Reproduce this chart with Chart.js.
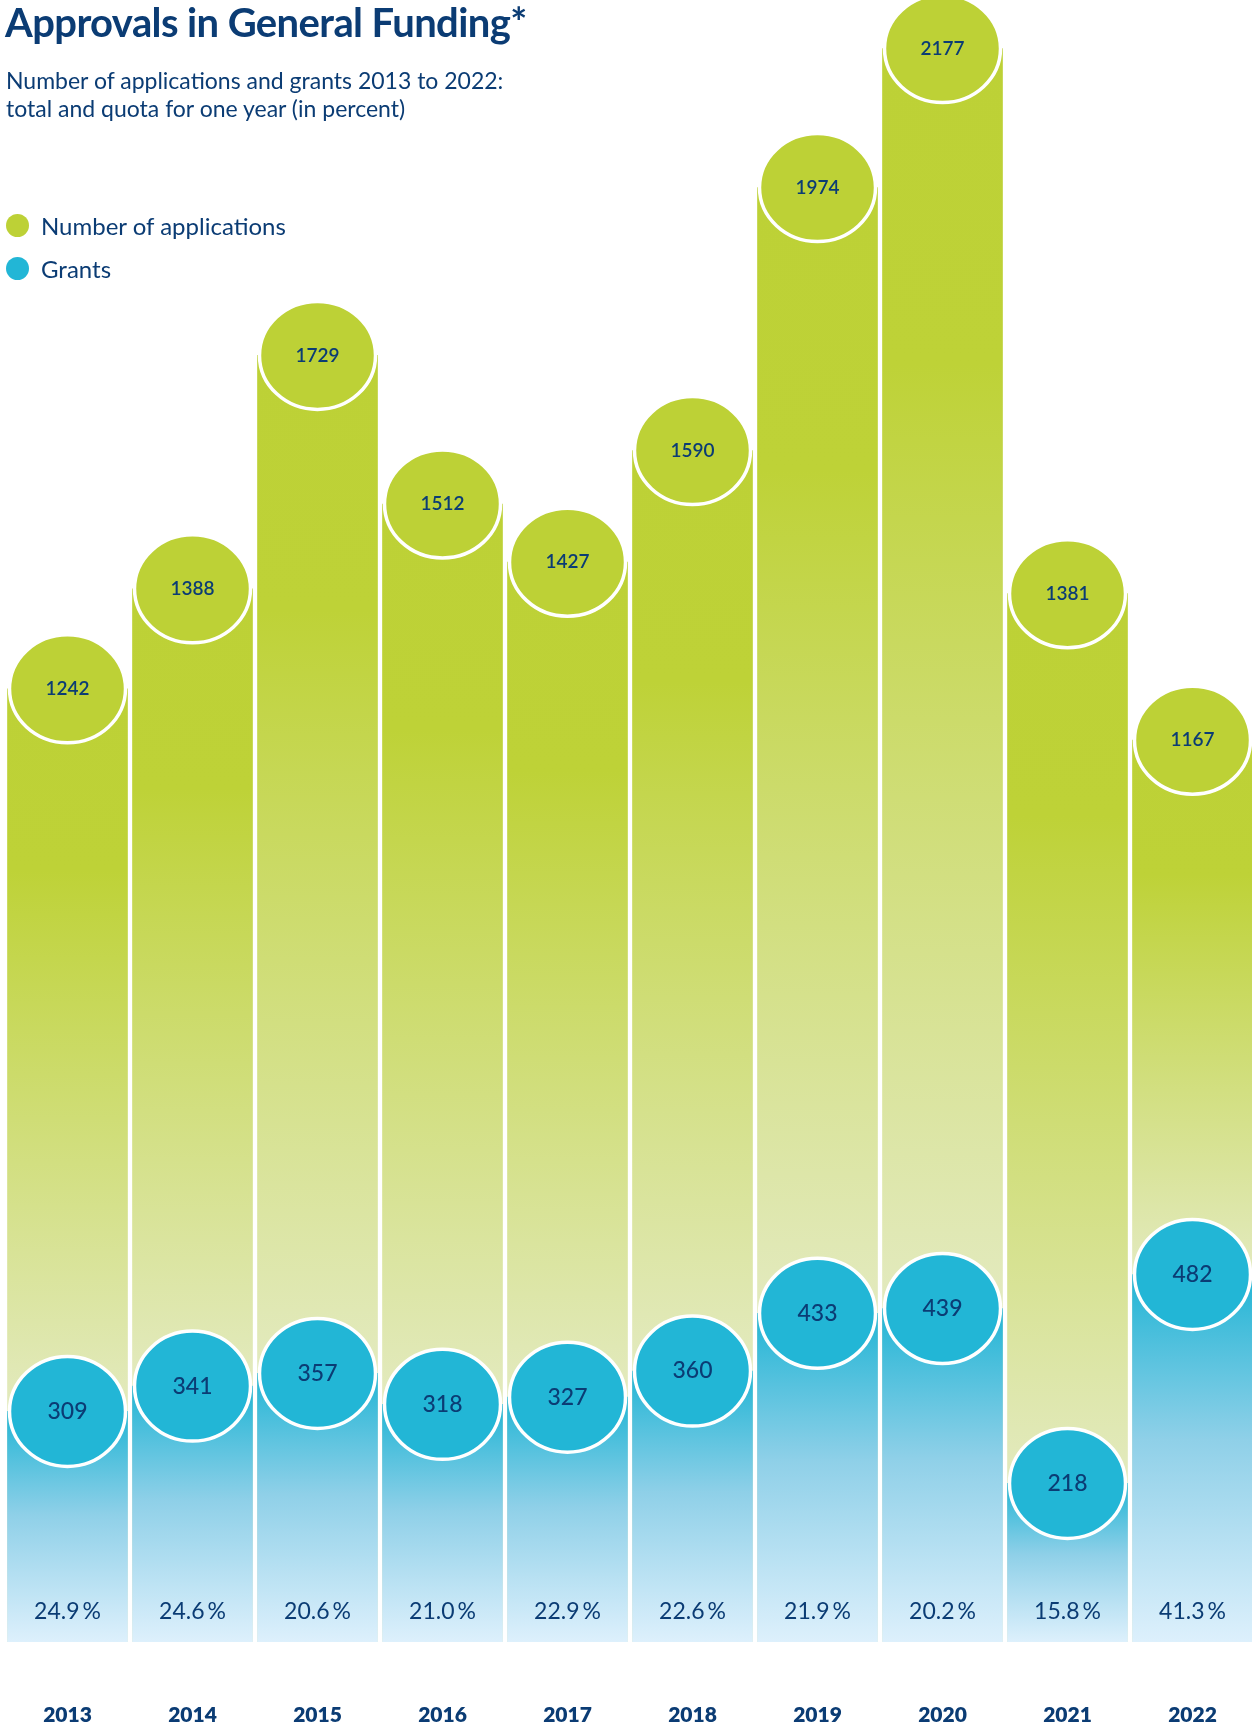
<!DOCTYPE html>
<html>
<head>
<meta charset="utf-8">
<script src="https://cdn.jsdelivr.net/npm/chart.js@4"></script>
<style>
  html, body { margin: 0; padding: 0; background: #fff; }
  #wrap { position: relative; width: 1252px; height: 1727px; overflow: hidden; font-family: Lato, sans-serif; color: #0b3c74; }
  #c { position: absolute; left: 0; top: 0; }
  h1 { position: absolute; left: 5px; top: -2px; margin: 0; font-size: 40px; font-weight: 700; letter-spacing: -0.6px; }
  .sub { position: absolute; left: 6px; top: 66px; font-size: 23px; line-height: 28px; }
  .legend { position: absolute; left: 6px; top: 204px; font-size: 24px; }
  .legend div { display: flex; align-items: center; height: 43px; }
  .dot { width: 23px; height: 23px; border-radius: 50%; margin-right: 12px; }
</style>
</head>
<body>
<div id="wrap">
  <canvas id="c" width="1256" height="1727"></canvas>
  <h1>Approvals in General Funding*</h1>
  <div class="sub">Number of applications and grants 2013 to 2022:<br>total and quota for one year (in percent)</div>
  <div class="legend">
    <div><span class="dot" style="background:#bdd136"></span>Number of applications</div>
    <div><span class="dot" style="background:#22b6d6"></span>Grants</div>
  </div>
</div>
<script>
const years = ['2013', '2014', '2015', '2016', '2017', '2018', '2019', '2020', '2021', '2022'];
const applications = [1242, 1388, 1729, 1512, 1427, 1590, 1974, 2177, 1381, 1167];
const grants = [309, 341, 357, 318, 327, 360, 433, 439, 218, 482];
const quota = [24.9, 24.6, 20.6, 21.0, 22.9, 22.6, 21.9, 20.2, 15.8, 41.3];

const GREEN = '#bdd136';
const BLUE = '#22b6d6';
const NAVY = '#0b3c74';

// axis ranges (hidden axes), picked so bars sit like in the original
const appMin = -150, appMax = 2248;
const grantMin = 17.7, grantMax = 2092;

function greenFill(context) {
  const chart = context.chart;
  const area = chart.chartArea;
  if (!area || context.dataIndex === undefined) return GREEN;
  const i = context.dataIndex;
  const top = chart.scales.yA.getPixelForValue(applications[i]);
  const end = chart.scales.yG.getPixelForValue(grants[i]);
  const g = chart.ctx.createLinearGradient(0, top, 0, end);
  g.addColorStop(0, '#bdd136');
  g.addColorStop(0.25, '#bed237');
  g.addColorStop(1, '#e3eabf');
  return g;
}

function blueFill(context) {
  const chart = context.chart;
  const area = chart.chartArea;
  if (!area || context.dataIndex === undefined) return BLUE;
  const i = context.dataIndex;
  const top = chart.scales.yG.getPixelForValue(grants[i]);
  const g = chart.ctx.createLinearGradient(0, top, 0, area.bottom);
  g.addColorStop(0, '#22b5d5');
  g.addColorStop(0.45, '#8fd0e8');
  g.addColorStop(1, '#ddf0fc');
  return g;
}

const bubbles = {
  id: 'bubbles',
  afterDatasetDraw(chart, args) {
    const ctx = chart.ctx;
    const ds = chart.data.datasets[args.index];
    const isGrant = ds.yAxisID === 'yG';
    ctx.save();
    args.meta.data.forEach((bar, i) => {
      ctx.beginPath();
      ctx.ellipse(bar.x, bar.y, 58, isGrant ? 55 : 54, 0, 0, Math.PI * 2);
      ctx.fillStyle = isGrant ? BLUE : GREEN;
      ctx.fill();
      ctx.lineWidth = 3.5;
      ctx.strokeStyle = '#fff';
      ctx.stroke();
      ctx.fillStyle = NAVY;
      ctx.textAlign = 'center';
      ctx.textBaseline = 'middle';
      ctx.font = isGrant ? '500 23px Lato' : '600 19px Lato';
      ctx.fillText(String(ds.data[i]), bar.x, bar.y);
      if (isGrant) {
        ctx.font = '400 23px Lato';
        ctx.fillText(quota[i].toFixed(1) + '\u2009%', bar.x, chart.chartArea.bottom - 30);
      }
    });
    ctx.restore();
  },
  afterDraw(chart) {
    // year labels under the bars, taken from the category axis
    const ctx = chart.ctx;
    const x = chart.scales.x;
    ctx.save();
    ctx.fillStyle = NAVY;
    ctx.font = '800 21px Lato';
    ctx.textAlign = 'center';
    ctx.textBaseline = 'middle';
    x.ticks.forEach((t, i) => {
      ctx.fillText(x.getLabelForValue(t.value), x.getPixelForTick(i), chart.chartArea.bottom + 73);
    });
    ctx.restore();
  }
};

new Chart(document.getElementById('c'), {
  type: 'bar',
  data: {
    labels: years,
    datasets: [
      {
        label: 'Grants',
        data: grants,
        yAxisID: 'yG',
        order: 0,
        backgroundColor: blueFill
      },
      {
        label: 'Number of applications',
        data: applications,
        yAxisID: 'yA',
        order: 1,
        base: appMin,
        backgroundColor: greenFill
      }
    ]
  },
  options: {
    responsive: false,
    animation: false,
    grouped: false,
    barThickness: 120,
    layout: { padding: { left: 5, right: 1, top: 0, bottom: 85 } },
    plugins: { legend: { display: false }, tooltip: { enabled: false } },
    scales: {
      x: {
        grid: { display: false, drawTicks: false },
        border: { display: false },
        ticks: { display: false }
      },
      yA: { display: false, min: appMin, max: appMax },
      yG: { display: false, min: grantMin, max: grantMax }
    }
  },
  plugins: [bubbles]
});
</script>
</body>
</html>
